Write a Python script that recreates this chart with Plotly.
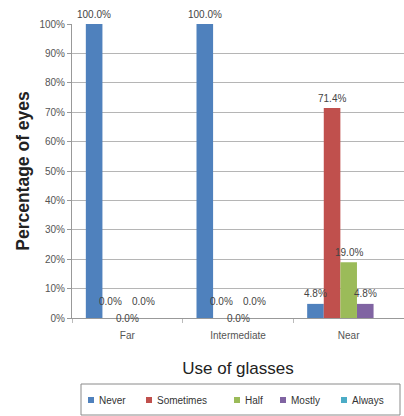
import plotly.graph_objects as go

# Share of eyes per spectacle-use frequency, by viewing distance
categories = ["Far", "Intermediate", "Near"]
series_names = ["Never", "Sometimes", "Half", "Mostly", "Always"]
never = [100.0, 100.0, 4.8]
sometimes = [0.0, 0.0, 71.4]
half = [0.0, 0.0, 19.0]
mostly = [0.0, 0.0, 4.8]
always = [None, None, None]
y_ticks = [0, 10, 20, 30, 40, 50, 60, 70, 80, 90, 100]

colors = ["#4F81BD", "#C0504D", "#9BBB59", "#8064A2", "#4BACC6"]
values = [never, sometimes, half, mostly, always]

W, H = 404, 416
margin = dict(l=72, r=0, t=24, b=98)
bargap = 0.25
font_narrow = "Liberation Sans Narrow, Arial Narrow, Liberation Sans, Arial, sans-serif"

fig = go.Figure()
for name, vals, col in zip(series_names, values, colors):
    fig.add_trace(go.Bar(
        name=name, x=categories, y=vals, marker_color=col,
        marker_line_width=0, showlegend=False,
    ))

plot_w = W - margin["l"] - margin["r"]
plot_h = H - margin["t"] - margin["b"]


def px_x(px):
    """page pixel column -> paper x"""
    return (px - margin["l"]) / plot_w


def px_y(py):
    """page pixel row -> paper y"""
    return (H - margin["b"] - py) / plot_h


# value labels placed over each bar slot of the group
cat_w = plot_w / len(categories)
bar_w = cat_w * (1 - bargap) / len(series_names)
annotations = []
for i, (name, vals) in enumerate(zip(series_names, values)):
    for cat, v in zip(categories, vals):
        if v is None:
            continue
        offset = (i - (len(series_names) - 1) / 2) * bar_w
        if v == 0:
            yshift = 0 if name == "Half" else 17
        else:
            yshift = 10
        annotations.append(dict(
            x=cat, y=v, xref="x", yref="y", text=f"{v:.1f}%",
            showarrow=False, xshift=offset, yshift=yshift,
            font=dict(family=font_narrow, size=10, color="#444"),
        ))

# boxed legend row under the axis title
shapes = [dict(
    type="rect", xref="paper", yref="paper",
    x0=px_x(81), x1=px_x(400), y0=px_y(384), y1=px_y(415),
    line=dict(color="#8a8a8a", width=1), fillcolor="white", layer="below",
)]
legend_x = [91, 149, 237, 283, 344]
legend_y = 400
for name, col, lx in zip(series_names, colors, legend_x):
    shapes.append(dict(
        type="rect", xref="paper", yref="paper",
        x0=px_x(lx - 3), x1=px_x(lx + 3), y0=px_y(legend_y - 3), y1=px_y(legend_y + 3),
        line=dict(width=0), fillcolor=col,
    ))
    annotations.append(dict(
        x=px_x(lx + 6), y=px_y(legend_y), xref="paper", yref="paper",
        text=name, showarrow=False, xanchor="left", yanchor="middle",
        font=dict(family=font_narrow, size=10, color="#333"),
    ))

fig.update_layout(
    width=W, height=H, margin=margin,
    barmode="group", bargap=bargap, bargroupgap=0,
    plot_bgcolor="white", paper_bgcolor="white",
    font=dict(family=font_narrow, size=10, color="#555"),
    annotations=annotations, shapes=shapes,
    showlegend=False,
    xaxis=dict(
        showgrid=False, showline=True, linecolor="#999", linewidth=1,
        ticks="outside", tickson="boundaries", ticklen=4, tickcolor="#bbb",
        ticklabelstandoff=8,
        tickfont=dict(family=font_narrow, size=10, color="#555"),
        title=dict(text="Use of glasses", standoff=22,
                   font=dict(family="Liberation Sans, Arial, sans-serif", size=17, color="#222")),
    ),
    yaxis=dict(
        range=[0, 100], tickvals=y_ticks,
        ticktext=[f"{t}%" for t in y_ticks],
        showgrid=True, gridcolor="#b5b5b5", gridwidth=1,
        showline=True, linecolor="#999", linewidth=1,
        ticks="outside", ticklen=4, tickcolor="#999",
        tickfont=dict(family=font_narrow, size=10, color="#555"),
        zeroline=False,
        title=dict(text="<b>Percentage of eyes</b>", standoff=5,
                   font=dict(family="Liberation Sans, Arial, sans-serif", size=17.5, color="#222")),
    ),
)

fig.write_html("out.html")
